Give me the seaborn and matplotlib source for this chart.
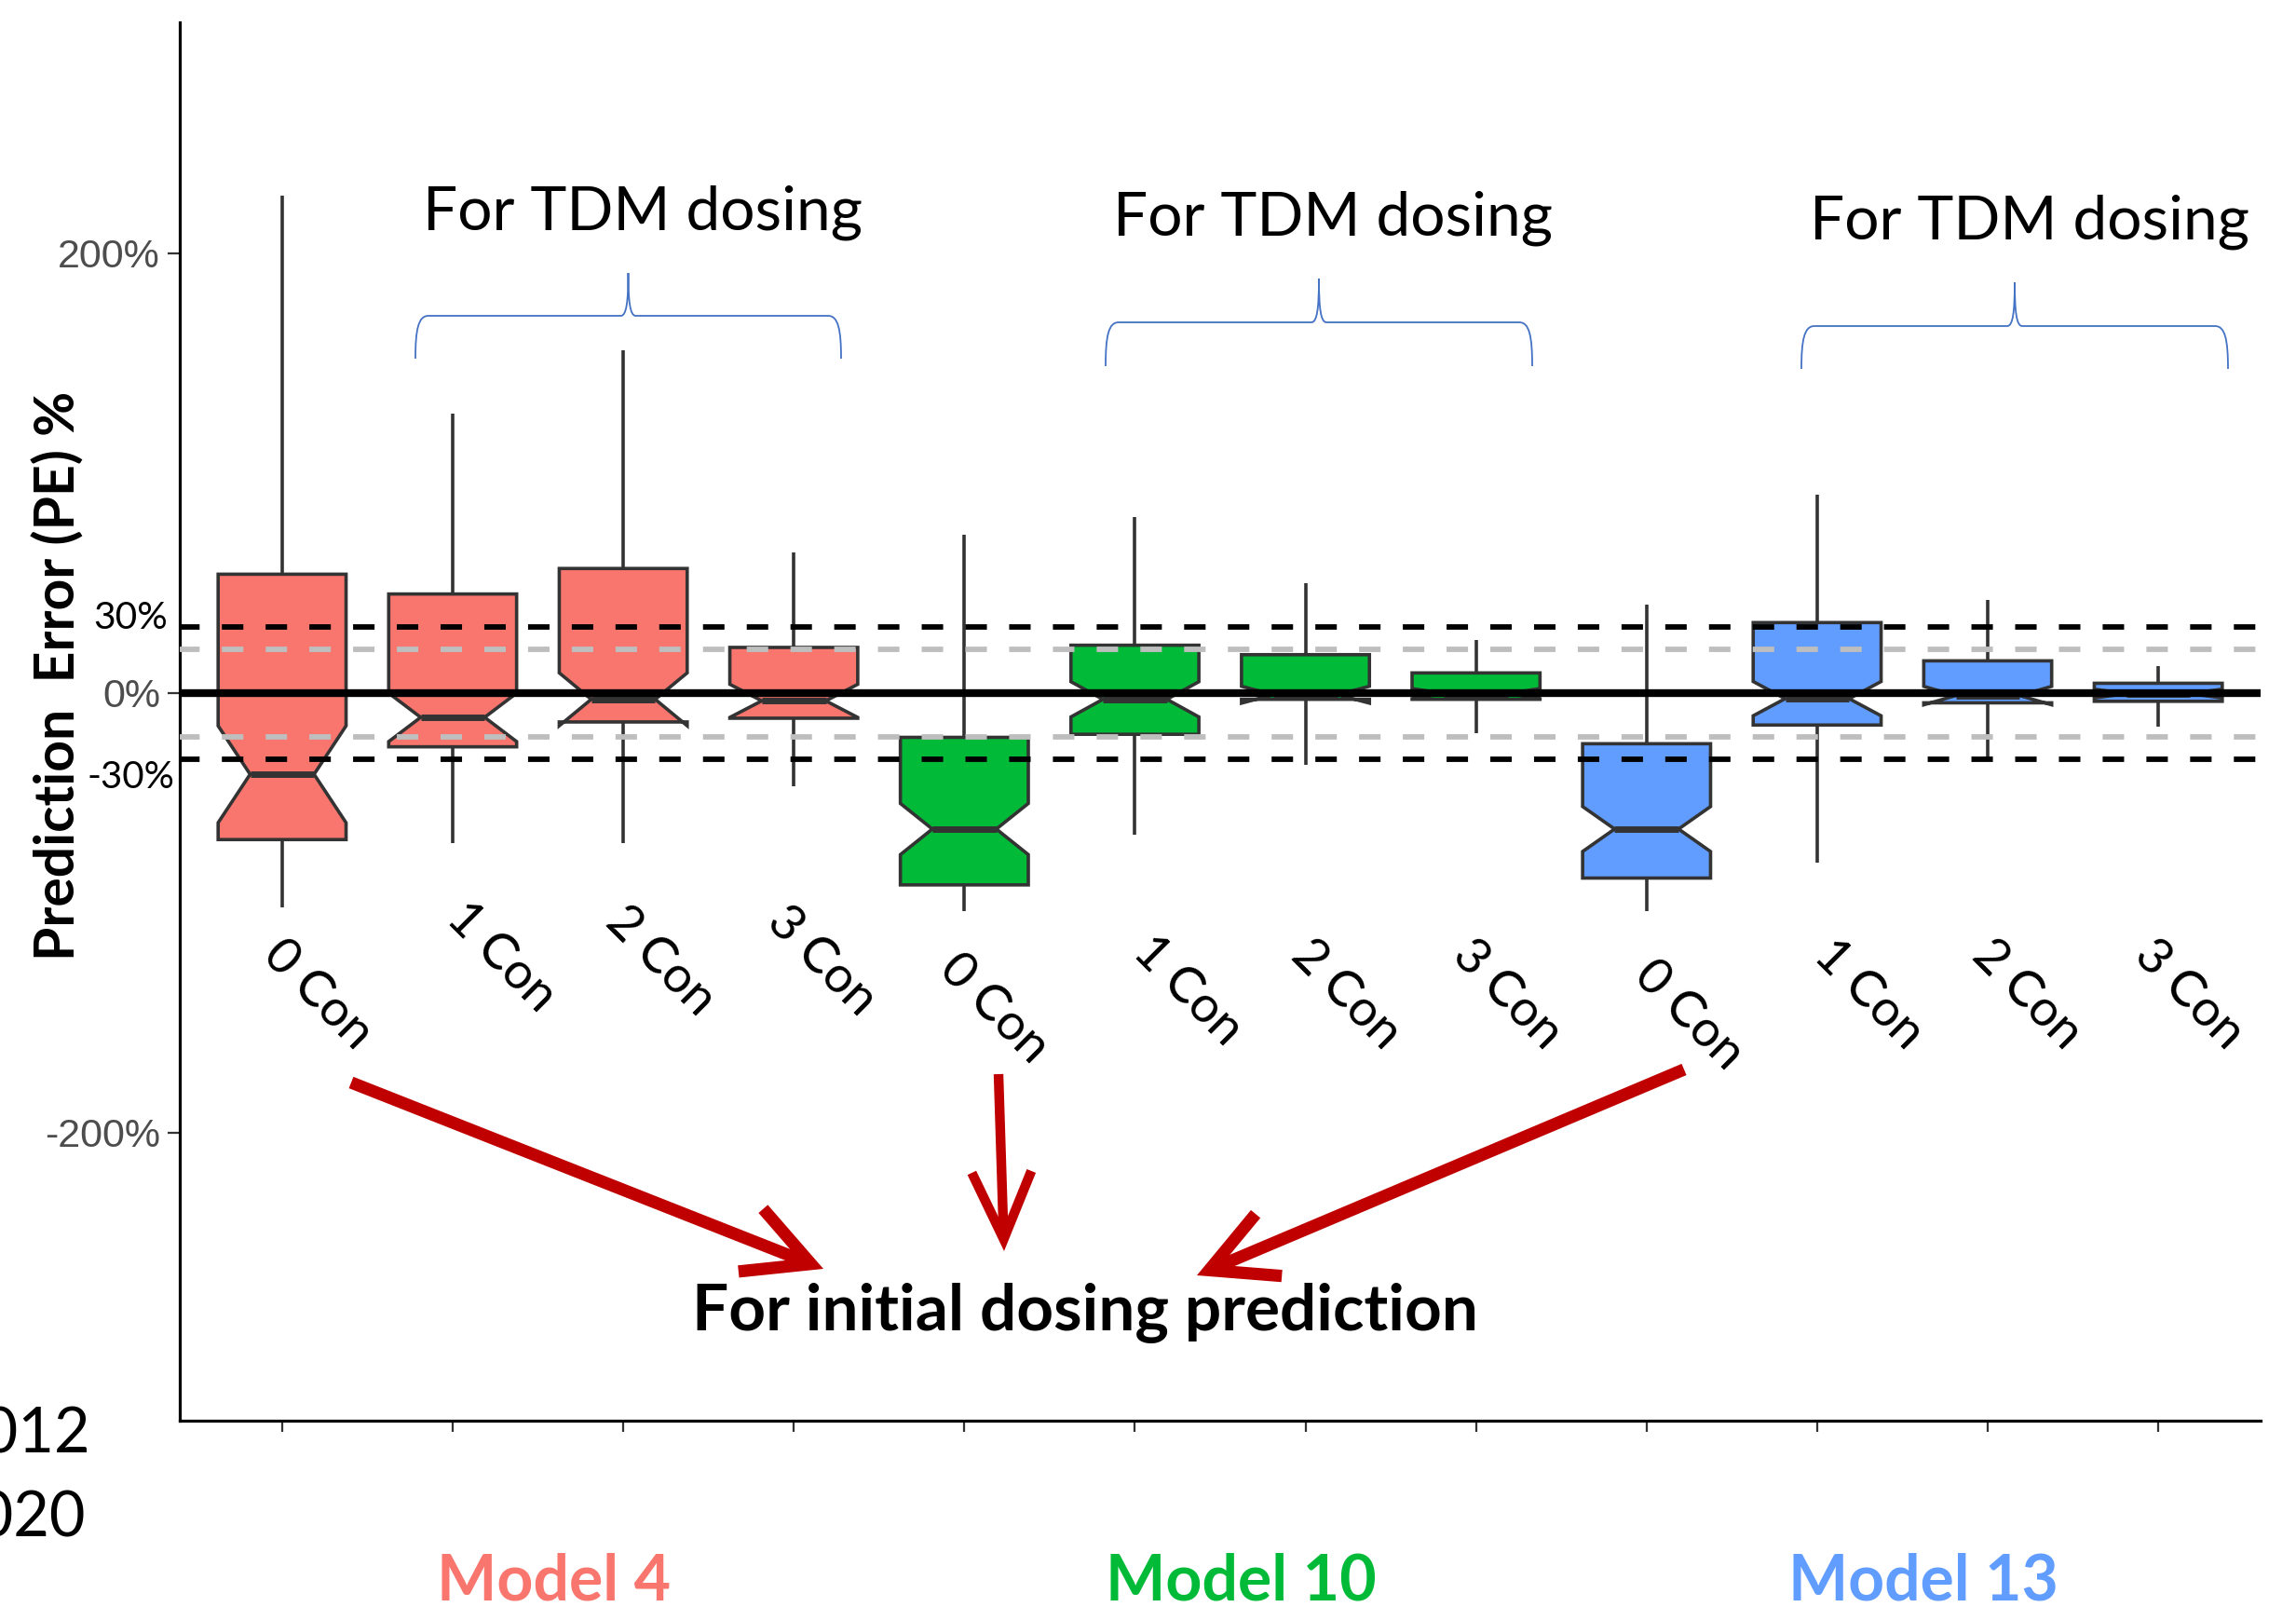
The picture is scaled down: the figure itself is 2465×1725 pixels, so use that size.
import numpy as np
import pandas as pd
import matplotlib
matplotlib.use('Agg')
import matplotlib.pyplot as plt
import seaborn as sns
from matplotlib.patches import FancyArrowPatch, PathPatch, ArrowStyle
from matplotlib.path import Path

# --- values: prediction error (%) per box ---
models = ['Model 4', 'Model 10', 'Model 13']
conc_levels = ['0 Con', '1 Con', '2 Con', '3 Con']
model_colors = ['#F8766D', '#00BA38', '#619CFF']

whisker_hi = [226, 127, 156, 64, 72, 80, 50, 24, 40, 90, 42.5, 12]
q3 = [54, 45, 56.6, 20.7, -20.2, 21.7, 17.4, 9.1, -23.1, 32, 14.6, 4.4]
median = [-37, -11.1, -2.9, -3.6, -61.9, -2.9, -0.8, -0.3, -61.9, -2.6, -1.2, -0.3]
q1 = [-66.7, -24.5, -13.2, -11.5, -87.3, -18.8, -2.9, -2.9, -84.2, -14.6, -4.5, -3.8]
whisker_lo = [-97.6, -68.4, -68.4, -42.5, -99.3, -64.3, -32.7, -18.1, -99.3, -77.4, -30.8, -15.3]
notch_half = [22, 11, 12, 7.5, 11.6, 8, 3.85, 2.3, 10.2, 7.8, 4.2, 2.0]

y_ticks = [-200, 0, 200]
y_ticklabels = ['-200%', '0%', '200%']
ref_black = [30, -30]
ref_grey = [20, -20]

# expand each five-number summary into a sample that gives the same box;
# the sample size sets the notch half-width (1.57 * IQR / sqrt(n))
rows = []
order = []
for i in range(12):
    model = models[i // 4]
    key = model + ' | ' + conc_levels[i % 4]
    order.append(key)
    n = int(round((1.57 * (q3[i] - q1[i]) / notch_half[i]) ** 2))
    a = (n - 2) // 3
    b = n - 2 - 2 * a
    vals = [whisker_lo[i]] + [q1[i]] * a + [median[i]] * b + [q3[i]] * a + [whisker_hi[i]]
    rows += [(key, model, v) for v in vals]
df = pd.DataFrame(rows, columns=['group', 'model', 'pe'])

W, H = 2465, 1725
sns.set_theme(style='ticks')
plt.rcParams['font.family'] = ['Lato', 'DejaVu Sans']
plt.rcParams['text.color'] = 'black'

fig = plt.figure(figsize=(W / 100, H / 100), dpi=100)
ax = fig.add_axes([193 / W, 1 - 1525 / H, (2427 - 193) / W, (1525 - 24) / H])

sns.boxplot(data=df, x='group', y='pe', hue='model', order=order, hue_order=models,
            palette=model_colors, dodge=False, width=0.75, notch=True, whis=(0, 100),
            showfliers=False, showcaps=False, saturation=1, linecolor='#333333',
            linewidth=2.6, legend=False, ax=ax,
            medianprops={'color': '#333333', 'linewidth': 5, 'solid_capstyle': 'butt'})

ax.set_xlim(-0.6, 11.6)
ax.set_ylim(-331, 305)

dash = (0.3, (3.95, 4.1))
for v in ref_grey:
    ax.axhline(v, color='#BEBEBE', lw=4.2, ls=dash, zorder=5)
for v in ref_black:
    ax.axhline(v, color='black', lw=4.2, ls=dash, zorder=5)
ax.axhline(0, color='black', lw=6, zorder=6)

sns.despine(ax=ax)
for s in ['left', 'bottom']:
    ax.spines[s].set_color('black')
    ax.spines[s].set_linewidth(2.3)
ax.set_xlabel('')
ax.set_ylabel('')
ax.set_xticks(range(12))
ax.set_xticklabels([])
ax.tick_params(axis='x', length=8.6, width=1.6, color='#333333')
ax.set_yticks(y_ticks)
ax.set_yticklabels(y_ticklabels)
ax.tick_params(axis='y', length=9.4, width=1.6, color='#333333', pad=5.8,
               labelsize=31, labelcolor='#4d4d4d')
for t in ax.get_yticklabels():
    t.set_fontfamily(['Liberation Sans Narrow', 'Liberation Sans'])


# --- slide annotations, placed in figure pixels ---
def px(x, y):
    return (x / W, 1 - y / H)


def note(x, y, s, width=None, rot=0, **kw):
    t = fig.text(*px(x, y), s, **kw)
    if width:
        w = t.get_window_extent(fig.canvas.get_renderer()).width
        t.set_fontsize(t.get_fontsize() * width / w)
    if rot:
        t.set_rotation(rot)
        t.set_rotation_mode('anchor')
    return t


for cx, by in [(690, 247), (1431, 252), (2179, 256)]:
    note(cx, by, 'For TDM dosing', width=472, fontsize=48, ha='center', va='baseline')

note(1165, 1428, 'For initial dosing prediction', width=842, fontsize=44,
     fontweight='bold', ha='center', va='baseline')

for m, c, cx, w in zip(models, model_colors, [595, 1332, 2065], [252, 291, 290]):
    note(cx, 1717, m, width=w, fontsize=48, fontweight='bold', color=c,
         ha='center', va='baseline')

note(63, 725, 'Prediction  Error (PE) %', width=610, rot=90, fontsize=44,
     fontweight='bold', ha='center', va='center')

note(180, 675, '30%', width=80, fontsize=30, ha='right', va='baseline')
note(187, 846, '-30%', width=94, fontsize=30, ha='right', va='baseline')
note(98, 1560, '2012', fontsize=48, ha='right', va='baseline')
note(92, 1650, '2020', fontsize=48, ha='right', va='baseline')

lab_pos = [(341, 1067), (538, 1027), (709, 1031), (882, 1031),
           (1067, 1082), (1275, 1063), (1445, 1067), (1618, 1067),
           (1813, 1089), (2006, 1067), (2176, 1067), (2350, 1067)]
for i, (x, y) in enumerate(lab_pos):
    note(x, y, conc_levels[i % 4], rot=-45, fontsize=39, ha='center', va='center')


def brace(x0, x1, yt, ym, yb):
    xc = (x0 + x1) / 2
    pts = [(x0, yb), (x0, ym + 15), (x0 + 3, ym), (x0 + 14, ym),
           (xc - 8, ym),
           (xc - 2, ym), (xc, ym - 15), (xc, yt),
           (xc, ym - 15), (xc + 2, ym), (xc + 8, ym),
           (x1 - 14, ym),
           (x1 - 3, ym), (x1, ym + 15), (x1, yb)]
    codes = [Path.MOVETO] + [Path.CURVE4] * 3 + [Path.LINETO] + [Path.CURVE4] * 6 \
        + [Path.LINETO] + [Path.CURVE4] * 3
    path = Path([px(*p) for p in pts], codes)
    fig.add_artist(PathPatch(path, transform=fig.transFigure, fill=False,
                             edgecolor='#4472C4', lw=1.3))


brace(446, 903, 293, 339, 385)
brace(1187, 1645, 299, 346, 393)
brace(1934, 2392, 303, 350, 396)

arrows = [((377, 1162), (884, 1362), 9.5, 0.50, 0.26),
          ((1072, 1153), (1078, 1343), 7.5, 0.52, 0.23),
          ((1808, 1148), (1285, 1369), 9.5, 0.50, 0.26)]
for a, b, lw, hl, hw in arrows:
    fig.add_artist(FancyArrowPatch(px(*a), px(*b), transform=fig.transFigure,
                                   arrowstyle=ArrowStyle('->', head_length=hl, head_width=hw),
                                   mutation_scale=100, lw=lw, color='#C00000',
                                   shrinkA=0, shrinkB=0, capstyle='butt',
                                   joinstyle='miter'))

fig.savefig('out.png', dpi=100)
